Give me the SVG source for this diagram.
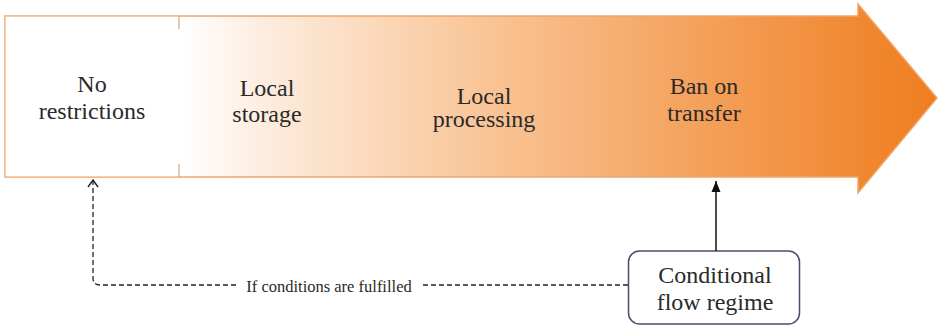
<svg xmlns="http://www.w3.org/2000/svg" width="938" height="328" viewBox="0 0 938 328">
  <defs>
    <linearGradient id="flowFill" gradientUnits="userSpaceOnUse" x1="180" y1="0" x2="938" y2="0">
      <stop offset="0" stop-color="#ffffff"/>
      <stop offset="0.12" stop-color="#fdebdc"/>
      <stop offset="0.4" stop-color="#f9c597"/>
      <stop offset="0.7" stop-color="#f49f58"/>
      <stop offset="1" stop-color="#ef7d1e"/>
    </linearGradient>
    <marker id="openHead" viewBox="0 0 12 12" refX="6" refY="1" markerWidth="12" markerHeight="12" markerUnits="userSpaceOnUse" orient="0">
      <path d="M1,8 L6,1 L11,8" fill="none" stroke="#222" stroke-width="1.4"/>
    </marker>
    <marker id="solidHead" viewBox="0 0 12 12" refX="6" refY="0" markerWidth="12" markerHeight="12" markerUnits="userSpaceOnUse" orient="0">
      <path d="M1.5,11 L6,0 L10.5,11 Z" fill="#111"/>
    </marker>
  </defs>

  <!-- big progression arrow -->
  <g id="flow-arrow">
    <path d="M5,16 L858,16 L858,4 L937,98 L858,193 L858,177 L5,177 Z" fill="url(#flowFill)" stroke="#f0a56a" stroke-width="1.5"/>
    <rect x="5.75" y="16.75" width="173" height="159.5" fill="#ffffff"/>
    <line x1="179" y1="16" x2="179" y2="29" stroke="#e0a577" stroke-width="1.2"/>
    <line x1="179" y1="164" x2="179" y2="177" stroke="#e0a577" stroke-width="1.2"/>
  </g>

  <g font-family="Liberation Serif" font-size="24" fill="#2a2a2a" text-anchor="middle">
    <g id="no-restrictions">
      <text x="92" y="92">No</text>
      <text x="92" y="119">restrictions</text>
    </g>
    <g id="local-storage">
      <text x="267" y="96">Local</text>
      <text x="267" y="122">storage</text>
    </g>
    <g id="local-processing">
      <text x="484" y="104">Local</text>
      <text x="484" y="127">processing</text>
    </g>
    <g id="ban-on-transfer">
      <text x="704" y="94">Ban on</text>
      <text x="704" y="121">transfer</text>
    </g>
    <g id="conditional-flow-regime">
      <rect x="628.5" y="251" width="171" height="73" rx="11" ry="11" fill="#ffffff" stroke="#4a4e6a" stroke-width="1.5"/>
      <text x="715" y="283">Conditional</text>
      <text x="715" y="310">flow regime</text>
    </g>
  </g>

  <!-- connectors -->
  <g id="connectors">
    <path d="M628,285 L100,285 Q93,285 93,278 L93,180" fill="none" stroke="#222" stroke-width="1.3" stroke-dasharray="5 3" marker-end="url(#openHead)"/>
    <rect x="238" y="275" width="184" height="20" fill="#ffffff"/>
    <text x="329" y="292" font-family="Liberation Serif" font-size="16.5" fill="#2a2a2a" text-anchor="middle">If conditions are fulfilled</text>
    <line x1="716" y1="251" x2="716" y2="181" stroke="#111" stroke-width="1.5" marker-end="url(#solidHead)"/>
  </g>
</svg>
